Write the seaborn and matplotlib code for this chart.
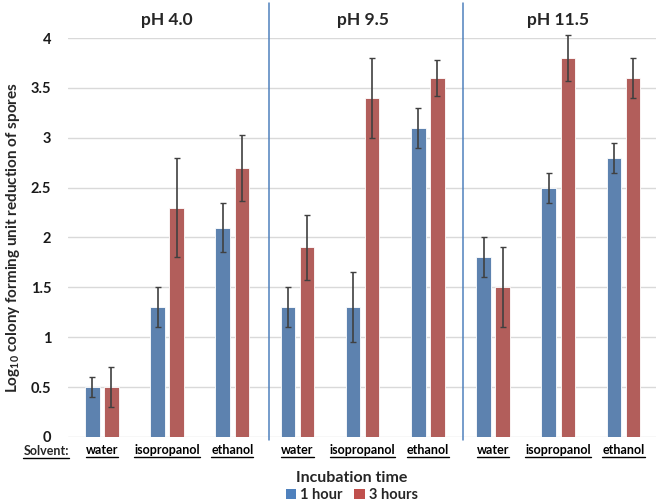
import pandas as pd
import matplotlib
matplotlib.use('Agg')
import matplotlib.pyplot as plt
import seaborn as sns
from matplotlib.patches import Patch
from matplotlib.lines import Line2D

# chart data
ph_levels = ['pH 4.0', 'pH 9.5', 'pH 11.5']
solvents = ['water', 'isopropanol', 'ethanol']
times = ['1 hour', '3 hours']

# values per bar, ordered pH 4.0 (water, isopropanol, ethanol), pH 9.5 (...), pH 11.5 (...)
one_hour = [0.5, 1.3, 2.1, 1.3, 1.3, 3.1, 1.8, 2.5, 2.8]
three_hours = [0.5, 2.3, 2.7, 1.9, 3.4, 3.6, 1.5, 3.8, 3.6]
one_hour_err = [0.1, 0.2, 0.25, 0.2, 0.35, 0.2, 0.2, 0.15, 0.15]
three_hours_err = [0.2, 0.5, 0.33, 0.33, 0.4, 0.18, 0.4, 0.23, 0.2]

colors = ['#4F81BD', '#C0504D']


def build_frame():
    rows = []
    for t, vals in zip(times, [one_hour, three_hours]):
        for i, v in enumerate(vals):
            rows.append({'slot': i, 'time': t, 'value': v})
    return pd.DataFrame(rows)


def draw_chart(df):
    sns.set_style('white')
    plt.rcParams['font.family'] = ['Lato', 'DejaVu Sans']
    plt.rcParams['mathtext.default'] = 'regular'

    fig = plt.figure(figsize=(6.6, 5.01), dpi=100)
    ax = fig.add_axes([0.103, 0.128, 0.891, 0.796])

    sns.barplot(data=df, x='slot', y='value', hue='time', hue_order=times,
                palette=colors, width=0.585, gap=0.24, errorbar=None,
                edgecolor='white', linewidth=0.6, legend=False, ax=ax, zorder=3)

    # error bars from the table values
    for container, errs in zip(ax.containers, [one_hour_err, three_hours_err]):
        xs = [p.get_x() + p.get_width() / 2 for p in container]
        eb = ax.errorbar(xs, container.datavalues, yerr=errs, fmt='none',
                         ecolor='#404040', elinewidth=1.2, capsize=2.5, capthick=1, zorder=4)
        for art in eb.lines[1] + eb.lines[2]:
            art.set_clip_on(False)

    ax.set_ylim(0, 4)
    ax.set_xlim(-0.52, 8.5)
    ax.set_yticks([0, 0.5, 1, 1.5, 2, 2.5, 3, 3.5, 4])
    ax.set_yticklabels(['0', '0.5', '1', '1.5', '2', '2.5', '3', '3.5', '4'])
    ax.yaxis.grid(True, color='#d9d9d9', linewidth=1, zorder=0)
    ax.set_axisbelow(True)
    for s in ax.spines.values():
        s.set_visible(False)
    ax.tick_params(axis='y', length=0, pad=12, labelsize=10.5, labelcolor='#1a1a1a')
    ax.tick_params(axis='x', length=0, pad=5, labelsize=9, labelcolor='black')
    for lbl in ax.get_yticklabels():
        lbl.set_fontweight('bold')
    ax.set_xticks(range(9))
    ax.set_xticklabels(solvents * 3, fontweight='bold')

    ax.set_xlabel('')
    ax.set_ylabel('Log$_{10}$ colony forming unit reduction of spores',
                  fontsize=11, fontweight='bold', labelpad=6)

    # group separators and pH titles
    for xs in [2.57, 5.54]:
        ax.axvline(xs, ymin=-0.008, ymax=1.088, color='#4F81BD', linewidth=1.1,
                   clip_on=False, zorder=2)
    for i, ph in enumerate(ph_levels):
        ax.text(1 + 3 * i, 1.045, ph, transform=ax.get_xaxis_transform(),
                ha='center', va='center', fontsize=12.5, fontweight='bold')

    solvent_txt = fig.text(46 / 660, 1 - 451 / 501, 'Solvent:', ha='center', va='center',
                           fontsize=9, fontweight='bold')

    handles = [Patch(facecolor=c, edgecolor='none') for c in colors]
    leg = fig.legend(handles, times, loc='lower center', bbox_to_anchor=(0.533, -0.016),
                     ncol=2, frameon=False, title='Incubation time',
                     prop={'size': 10.5, 'weight': 'bold'},
                     title_fontproperties={'size': 11.5, 'weight': 'bold'},
                     handlelength=0.7, handleheight=0.7, handletextpad=0.3,
                     columnspacing=0.8, borderaxespad=0.1, labelspacing=0.2)
    leg._legend_box.sep = 2

    # underline the solvent labels
    fig.canvas.draw()
    renderer = fig.canvas.get_renderer()
    inv = fig.transFigure.inverted()
    for t in list(ax.get_xticklabels()) + [solvent_txt]:
        bb = t.get_window_extent(renderer)
        (x0, y0), (x1, y1) = inv.transform([[bb.x0, bb.y0 - 1], [bb.x1, bb.y0 - 1]])
        fig.add_artist(Line2D([x0, x1], [y0, y1], color='black', linewidth=1,
                              transform=fig.transFigure))

    fig.savefig('out.png', dpi=100)
    return fig


def main():
    df = build_frame()
    draw_chart(df)


if __name__ == '__main__':
    main()
